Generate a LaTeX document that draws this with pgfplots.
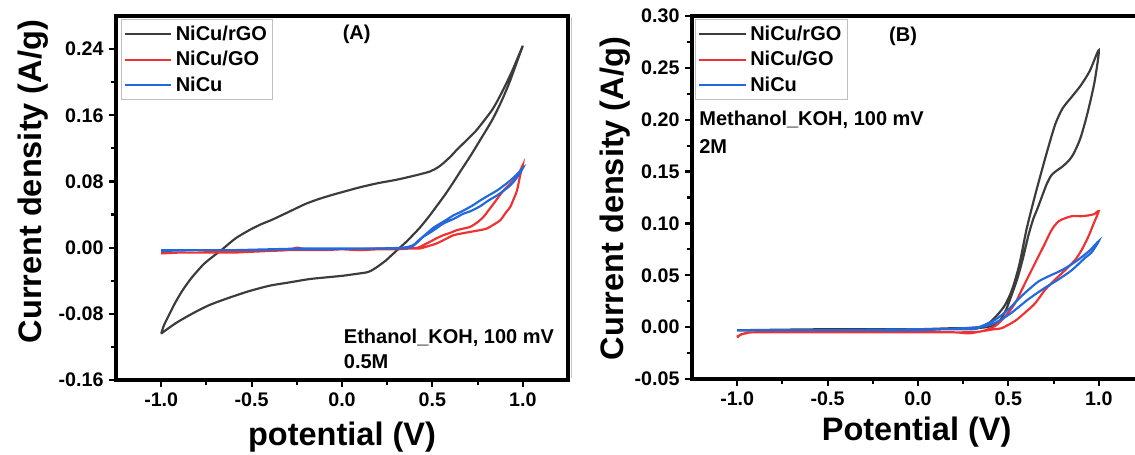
\documentclass[border=0pt]{standalone}
\usepackage{fontspec}
\setmainfont{Liberation Sans}
\usepackage{pgfplots}
\pgfplotsset{compat=1.18}
\definecolor{cblack}{RGB}{60,60,60}
\definecolor{cred}{RGB}{238,50,50}
\definecolor{cblue}{RGB}{35,105,220}

\pgfplotsset{
  cvaxis/.style={
    scale only axis,
    width=271.2pt,
    xmin=-1.25, xmax=1.25,
    axis line style={line width=2.2pt},
    tick align=outside,
    tick pos=left,
    major tick length=4pt,
    minor tick length=3pt,
    every tick/.style={black, line width=1.3pt},
    xtick={-1,-0.5,0,0.5,1},
    xticklabels={-1.0,-0.5,0.0,0.5,1.0},
    minor x tick num=1,
    minor y tick num=1,
    tick label style={font=\fontsize{11.8}{13}\selectfont\bfseries},
    label style={font=\fontsize{19.5}{22}\selectfont\bfseries},
    legend cell align=left,
    legend image code/.code={\draw[##1] (0pt,0pt) -- (28pt,0pt);},
    legend style={draw=gray!50, line width=0.5pt, inner sep=1.5pt,
      font=\fontsize{12}{14}\selectfont\bfseries, row sep=1.2pt},
    every axis plot/.append style={line width=1.3pt, smooth, tension=0.45},
  },
}

\begin{document}
\begin{tikzpicture}
% ---------------- Panel A ----------------
\begin{axis}[cvaxis,
  at={(69.6pt,45pt)}, anchor=south west,
  height=218.4pt,
  ymin=-0.16, ymax=0.28,
  ytick={-0.16,-0.08,0,0.08,0.16,0.24},
  yticklabels={-0.16,-0.08,0.00,0.08,0.16,0.24},
  xlabel={potential (V)},
  ylabel={Current density (A/g)},
  x label style={at={(axis description cs:0.50,-0.157)}, anchor=center},
  y label style={at={(axis description cs:-0.184,0.545)}, anchor=center},
  legend style={at={(rel axis cs:0.0104,0.991)}, anchor=north west},
]
\addplot[cblack] coordinates {
(-1.000,-0.104) (-0.985,-0.094) (-0.958,-0.082) (-0.921,-0.066) (-0.880,-0.051)
(-0.830,-0.036) (-0.760,-0.019) (-0.662,-0.002) (-0.590,0.011) (-0.514,0.021)
(-0.450,0.028) (-0.384,0.034) (-0.287,0.044) (-0.200,0.053) (-0.125,0.059)
(-0.050,0.064) (0.016,0.068) (0.100,0.073) (0.200,0.078) (0.300,0.082)
(0.400,0.087) (0.486,0.092) (0.530,0.097) (0.560,0.102) (0.600,0.110)
(0.634,0.118) (0.690,0.130) (0.740,0.141) (0.784,0.153) (0.835,0.168)
(0.885,0.188) (0.940,0.213) (1.000,0.244)
(0.975,0.229) (0.925,0.199) (0.880,0.176) (0.830,0.154) (0.764,0.130)
(0.708,0.110) (0.660,0.094) (0.616,0.079) (0.570,0.064) (0.523,0.050)
(0.475,0.036) (0.430,0.024) (0.400,0.017) (0.360,0.008) (0.320,0.000)
(0.280,-0.008) (0.240,-0.016) (0.190,-0.024) (0.160,-0.028) (0.134,-0.030)
(0.070,-0.032) (0.004,-0.034) (-0.090,-0.036) (-0.180,-0.038) (-0.290,-0.042)
(-0.400,-0.046) (-0.520,-0.053) (-0.643,-0.062) (-0.740,-0.070) (-0.830,-0.080)
(-0.910,-0.090) (-0.970,-0.099) (-1.000,-0.104)
};
\addlegendentry{NiCu/rGO}
\addplot[cred] coordinates {
(-1.000,-0.007) (-0.900,-0.006) (-0.800,-0.006) (-0.700,-0.005) (-0.600,-0.005)
(-0.500,-0.004) (-0.400,-0.004) (-0.300,-0.003) (-0.200,-0.003) (-0.100,-0.003)
(0.000,-0.002) (0.100,-0.002) (0.200,-0.001) (0.300,-0.001) (0.380,-0.001)
(0.430,-0.001) (0.480,0.002) (0.523,0.005) (0.570,0.010) (0.616,0.015)
(0.660,0.017) (0.708,0.019) (0.760,0.021) (0.800,0.023) (0.840,0.028)
(0.875,0.033) (0.905,0.042) (0.930,0.049) (0.950,0.059) (0.968,0.069)
(0.986,0.088) (1.000,0.100)
(0.975,0.088) (0.949,0.081) (0.920,0.075) (0.893,0.069) (0.865,0.061)
(0.838,0.053) (0.810,0.045) (0.782,0.037) (0.745,0.030) (0.708,0.025)
(0.670,0.023) (0.634,0.021) (0.600,0.018) (0.560,0.015) (0.520,0.011)
(0.486,0.007) (0.450,0.003) (0.420,0.000) (0.380,-0.001) (0.300,-0.002)
(0.200,-0.002) (0.100,-0.003) (0.000,-0.002) (-0.100,-0.002) (-0.200,-0.002)
(-0.250,0.000) (-0.300,-0.003) (-0.400,-0.004) (-0.500,-0.005) (-0.600,-0.006)
(-0.700,-0.006) (-0.800,-0.006) (-0.900,-0.006) (-1.000,-0.006)
};
\addlegendentry{NiCu/GO}
\addplot[cblue] coordinates {
(-1.000,-0.004) (-0.800,-0.003) (-0.600,-0.003) (-0.400,-0.002) (-0.200,-0.001)
(0.000,-0.001) (0.200,-0.001) (0.338,0.000) (0.393,0.003) (0.430,0.010)
(0.468,0.017) (0.505,0.024) (0.542,0.029) (0.580,0.034) (0.616,0.039)
(0.655,0.043) (0.690,0.047) (0.730,0.052) (0.764,0.057) (0.810,0.063)
(0.857,0.069) (0.895,0.075) (0.930,0.081) (0.965,0.088) (1.000,0.096)
(0.965,0.084) (0.930,0.075) (0.895,0.069) (0.857,0.063) (0.810,0.057)
(0.764,0.050) (0.710,0.044) (0.671,0.041) (0.620,0.035) (0.560,0.029)
(0.500,0.020) (0.449,0.013) (0.410,0.005) (0.375,0.000) (0.300,-0.001)
(0.100,-0.001) (-0.100,-0.002) (-0.300,-0.002) (-0.500,-0.003) (-0.700,-0.003)
(-0.900,-0.003) (-1.000,-0.003)
};
\addlegendentry{NiCu}
\node[font=\fontsize{12}{14}\selectfont\bfseries] at (rel axis cs:0.5325,0.951) {(A)};
\node[anchor=west, inner sep=0pt, font=\fontsize{12}{14}\selectfont\bfseries] at (rel axis cs:0.5035,0.115) {Ethanol\_KOH, 100 mV};
\node[anchor=west, inner sep=0pt, font=\fontsize{12}{14}\selectfont\bfseries] at (rel axis cs:0.5035,0.050) {0.5M};
\end{axis}

% separator
\draw[gray!45, line width=0.6pt] (342.6pt,46pt) -- (342.6pt,262.8pt);

% ---------------- Panel B ----------------
\begin{axis}[cvaxis,
  at={(415.2pt,45.6pt)}, anchor=south west,
  height=217.8pt,
  ymin=-0.05, ymax=0.30,
  ytick={-0.05,0,0.05,0.10,0.15,0.20,0.25,0.30},
  yticklabels={-0.05,0.00,0.05,0.10,0.15,0.20,0.25,0.30},
  xlabel={Potential (V)},
  ylabel={Current density (A/g)},
  x label style={at={(axis description cs:0.497,-0.145)}, anchor=center},
  y label style={at={(axis description cs:-0.170,0.497)}, anchor=center},
  legend style={at={(rel axis cs:0.007,0.991)}, anchor=north west},
]
\addplot[cblack] coordinates {
(-1.000,-0.003) (-0.800,-0.003) (-0.500,-0.002) (-0.200,-0.002) (0.000,-0.002)
(0.200,-0.001) (0.300,-0.001) (0.360,0.001) (0.400,0.005) (0.440,0.012)
(0.480,0.021) (0.520,0.036) (0.560,0.060) (0.600,0.094) (0.640,0.122)
(0.680,0.148) (0.720,0.173) (0.760,0.196) (0.800,0.211) (0.850,0.222)
(0.900,0.233) (0.950,0.247) (1.000,0.267)
(0.980,0.240) (0.955,0.219) (0.925,0.198) (0.896,0.181) (0.860,0.167)
(0.836,0.161) (0.800,0.155) (0.760,0.150) (0.736,0.146) (0.712,0.138)
(0.690,0.128) (0.660,0.114) (0.637,0.104) (0.610,0.088) (0.580,0.066)
(0.550,0.047) (0.520,0.032) (0.490,0.018) (0.456,0.007) (0.420,0.002)
(0.380,0.000) (0.300,-0.001) (0.000,-0.002) (-0.500,-0.002) (-1.000,-0.003)
};
\addlegendentry{NiCu/rGO}
\addplot[cred] coordinates {
(-1.000,-0.010) (-0.980,-0.007) (-0.950,-0.006) (-0.900,-0.005) (-0.500,-0.005)
(0.000,-0.005) (0.200,-0.005) (0.280,-0.006) (0.352,-0.004) (0.420,-0.002)
(0.463,-0.001) (0.537,0.006) (0.592,0.014) (0.648,0.023) (0.703,0.036)
(0.759,0.046) (0.814,0.055) (0.870,0.065) (0.907,0.075) (0.944,0.088)
(0.972,0.100) (1.000,0.112)
(0.975,0.109) (0.953,0.108) (0.907,0.107) (0.851,0.107) (0.814,0.105)
(0.777,0.102) (0.740,0.094) (0.703,0.081) (0.657,0.065) (0.611,0.049)
(0.574,0.036) (0.537,0.023) (0.481,0.010) (0.426,0.001) (0.352,-0.004)
(0.250,-0.005) (0.000,-0.005) (-0.500,-0.005) (-0.900,-0.005) (-0.960,-0.006)
(-1.000,-0.009)
};
\addlegendentry{NiCu/GO}
\addplot[cblue] coordinates {
(-1.000,-0.003) (-0.500,-0.003) (0.000,-0.002) (0.300,-0.002) (0.352,0.001)
(0.426,0.007) (0.500,0.017) (0.555,0.027) (0.611,0.036) (0.666,0.044)
(0.722,0.049) (0.796,0.055) (0.870,0.063) (0.944,0.073) (1.000,0.083)
(0.960,0.072) (0.925,0.067) (0.851,0.055) (0.777,0.046) (0.703,0.038)
(0.611,0.027) (0.518,0.014) (0.426,0.004) (0.330,0.000) (0.000,-0.003)
(-0.500,-0.003) (-1.000,-0.003)
};
\addlegendentry{NiCu}
\node[font=\fontsize{12}{14}\selectfont\bfseries] at (rel axis cs:0.467,0.945) {(B)};
\node[anchor=west, inner sep=0pt, font=\fontsize{12}{14}\selectfont\bfseries] at (rel axis cs:0.0155,0.7135) {Methanol\_KOH, 100 mV};
\node[anchor=west, inner sep=0pt, font=\fontsize{12}{14}\selectfont\bfseries] at (rel axis cs:0.0155,0.640) {2M};
\end{axis}
\pgfresetboundingbox
\path (0pt,0pt) rectangle (681pt,273pt);
\end{tikzpicture}
\end{document}
